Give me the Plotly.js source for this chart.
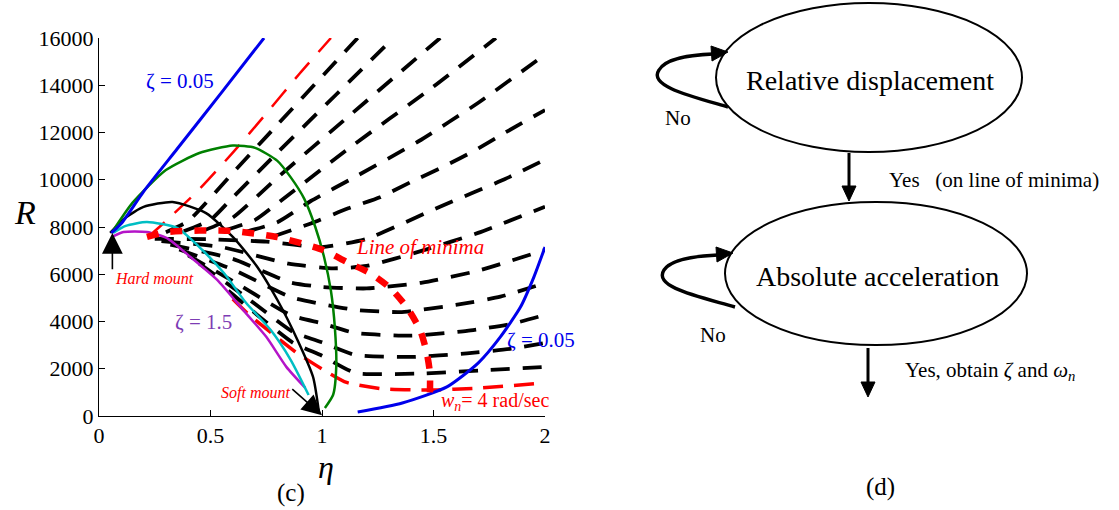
<!DOCTYPE html>
<html>
<head>
<meta charset="utf-8">
<script src="https://cdn.plot.ly/plotly-3.0.1.min.js"></script>
<style>html,body{margin:0;padding:0;background:#fff;}#chart{width:1119px;height:510px;}</style>
</head>
<body>
<div id="chart"></div>
<script>
// ---- damping curves (eta, R) ----
const zetaLowEta  = [0.055, 0.1, 0.2, 0.35, 0.55, 0.74];
const zetaLowR    = [7750, 8150, 9500, 11300, 13700, 16000];
const zetaLow2Eta = [1.16, 1.36, 1.56, 1.7, 1.8, 1.89, 1.95, 2.0];
const zetaLow2R   = [170, 550, 1230, 2240, 3350, 4610, 5880, 7150];
const greenEta = [0.06, 0.15, 0.3, 0.45, 0.6, 0.7, 0.8, 0.86, 0.92, 0.97, 1.01, 1.04, 1.058, 1.064, 1.05, 1.013];
const greenR   = [7800, 9020, 10410, 11130, 11450, 11350, 10800, 10100, 9200, 8000, 6700, 5300, 3700, 2100, 900, 340];
const blackEta = [0.05, 0.12, 0.2, 0.33, 0.48, 0.6, 0.71, 0.8, 0.89, 0.96, 0.985];
const blackR   = [7750, 8400, 8850, 9060, 8590, 7580, 6310, 4910, 3220, 1650, 250];
const cyanEta  = [0.063, 0.12, 0.215, 0.35, 0.45, 0.56, 0.66, 0.77, 0.86, 0.94];
const cyanR    = [7750, 8050, 8210, 7960, 7150, 6050, 4780, 3640, 2370, 890];
const zetaHighEta = [0.058, 0.11, 0.215, 0.305, 0.41, 0.53, 0.646, 0.75, 0.84, 0.925];
const zetaHighR   = [7580, 7790, 7790, 7530, 6730, 5760, 4490, 3350, 2080, 1190];

// ---- line of minima ----
const minimaEta = [0.215, 0.3, 0.45, 0.6, 0.8, 1.005, 1.11, 1.215, 1.305, 1.38, 1.44, 1.47, 1.484, 1.484];
const minimaR   = [7580, 7780, 7850, 7830, 7570, 7030, 6520, 6050, 5420, 4610, 3640, 2670, 1820, 1000];

// ---- constant natural-frequency curves ----
const wn19Eta = [0.22, 0.3, 0.45, 0.6, 0.75, 0.9, 1.04];
const wn19R   = [7580, 8250, 9600, 11150, 12800, 14500, 16000];
const wn4Eta  = [0.6, 0.665, 0.88, 1.0, 1.11, 1.27, 1.48, 1.7, 2.0];
const wn4R    = [4950, 4350, 2720, 1990, 1420, 1150, 1100, 1180, 1400];
const midEta = [
  [0.3, 0.4, 0.6, 0.8, 1.051, 1.16],
  [0.38, 0.5, 0.6, 0.8, 1.066, 1.32],
  [0.47, 0.6, 0.8, 1.126, 1.53],
  [0.56, 0.7, 0.8, 1.106, 1.495, 1.78],
  [0.66, 0.8, 0.95, 1.156, 1.435, 1.701, 2.0],
  [0.78, 0.95, 1.118, 1.26, 1.402, 1.544, 1.689, 1.824, 2.0],
  [0.25, 0.5, 0.75, 1.0, 1.2, 1.529, 1.821, 2.0],
  [0.28, 0.55, 0.85, 1.05, 1.2, 1.45, 1.7, 2.0],
  [0.32, 0.6, 0.856, 1.0, 1.2, 1.45, 1.7, 2.0],
  [0.36, 0.6, 0.864, 1.0, 1.15, 1.35, 1.6, 1.8, 2.0],
  [0.4, 0.62, 0.864, 1.0, 1.15, 1.4, 1.65, 1.85, 2.0],
  [0.45, 0.65, 0.87, 1.0, 1.15, 1.4, 1.65, 1.85, 2.0],
  [0.58, 0.707, 0.87, 1.0, 1.15, 1.45, 1.75, 2.0]
];
const midR = [
  [7780, 8250, 10290, 12330, 14890, 16000],
  [7820, 8300, 9250, 11150, 13630, 16000],
  [7850, 8400, 10090, 12740, 16000],
  [7850, 8300, 9000, 11230, 13910, 16000],
  [7800, 8200, 9100, 10160, 11640, 13260, 15300],
  [7600, 8150, 8790, 9260, 9920, 10550, 11260, 12010, 12950],
  [7500, 7480, 7380, 7150, 7500, 8860, 10030, 10850],
  [7400, 7150, 6450, 6250, 6350, 7000, 7750, 8860],
  [7250, 6650, 5660, 5460, 5400, 5650, 6150, 7030],
  [7050, 6200, 5020, 4740, 4490, 4400, 4700, 5050, 5630],
  [6800, 5600, 4250, 3920, 3510, 3400, 3600, 3900, 4280],
  [6450, 5100, 3560, 3120, 2580, 2500, 2650, 2850, 3090],
  [5300, 4300, 3100, 2550, 1820, 1800, 1950, 2080]
];

const SERIF = 'Liberation Serif, Times New Roman, Times, serif';
const BLUE = 'rgb(0,0,235)', RED = 'rgb(255,0,0)', GREEN = 'rgb(0,128,0)';
const CYAN = 'rgb(0,190,195)', MAGENTA = 'rgb(180,20,200)', PURPLE = 'rgb(125,60,180)';

function line(x, y, color, width, dash, smooth) {
  return {x: x, y: y, type: 'scatter', mode: 'lines', hoverinfo: 'skip',
          line: {color: color, width: width, dash: dash || 'solid', shape: 'spline',
                 smoothing: smooth === undefined ? 0.6 : smooth}};
}

const traces = [];
midEta.forEach((x, i) => traces.push(line(x, midR[i], 'black', 3.8, '19px,13px', 0.5)));
traces.push(line(wn19Eta, wn19R, RED, 2.5, '22px,14px'));
traces.push(line(wn4Eta, wn4R, RED, 3.5, '20px,11px', 0.5));
traces.push(line(zetaHighEta, zetaHighR, MAGENTA, 2.5));
traces.push(line(cyanEta, cyanR, CYAN, 2.5));
traces.push(line(blackEta, blackR, 'black', 2.5));
traces.push(line(greenEta, greenR, GREEN, 2.5));
traces.push(line(zetaLowEta, zetaLowR, BLUE, 3));
traces.push(line(zetaLow2Eta, zetaLow2R, BLUE, 3));
traces.push(line(minimaEta, minimaR, RED, 6.5, '12px,12px'));
// anchor trace for the flow-chart panel
traces.push({x: [], y: [], xaxis: 'x2', yaxis: 'y2', type: 'scatter', mode: 'lines', hoverinfo: 'skip'});

function txt(x, y, text, size, color, extra) {
  return Object.assign({x: x, y: y, xref: 'x', yref: 'y', text: text, showarrow: false,
    xanchor: 'center', yanchor: 'middle',
    font: {family: SERIF, size: size, color: color}}, extra || {});
}
function ptxt(x, y, text, size, extra) {
  return Object.assign({x: x, y: y, xref: 'x2', yref: 'y2', text: text, showarrow: false,
    xanchor: 'center', yanchor: 'middle',
    font: {family: SERIF, size: size, color: 'black'}}, extra || {});
}
function paperTxt(px, py, text, size) {
  return {x: px / 1119, y: 1 - py / 510, xref: 'paper', yref: 'paper', text: text, showarrow: false,
    xanchor: 'center', yanchor: 'middle', font: {family: SERIF, size: size, color: 'black'}};
}

const annotations = [
  txt(0.365, 14180, 'ζ = 0.05', 21, BLUE),
  txt(0.47, 3980, 'ζ = 1.5', 21, PURPLE),
  txt(1.82, 3220, 'ζ = 0.05', 21, BLUE, {xanchor: 'left'}),
  txt(1.166, 16470, '<i>w</i><sub><i>n</i></sub>= 19 rad/sec', 20, RED),
  txt(1.776, 593, '<i>w</i><sub><i>n</i></sub>= 4 rad/sec', 20, RED),
  txt(1.44, 7150, '<i>Line of minima</i>', 21, RED),
  txt(0.247, 5840, '<i>Hard mount</i>', 16, RED),
  txt(0.70, 970, '<i>Soft mount</i>', 16, RED),
  {x: 0.06, y: 7750, ax: 0.06, ay: 6150, xref: 'x', yref: 'y', axref: 'x', ayref: 'y', text: '',
   showarrow: true, arrowhead: 2, arrowsize: 2.6, arrowwidth: 1.6, arrowcolor: 'black'},
  {x: 1.0, y: 30, ax: 0.86, ay: 1190, xref: 'x', yref: 'y', axref: 'x', ayref: 'y', text: '',
   showarrow: true, arrowhead: 2, arrowsize: 2.5, arrowwidth: 1.6, arrowcolor: 'black'},
  paperTxt(25, 212, '<i>R</i>', 34),
  paperTxt(326, 467, '<i>η</i>', 32),
  paperTxt(291, 493, '(c)', 25),
  // flow chart text
  ptxt(870, 80, 'Relative displacement', 28),
  ptxt(877, 276, 'Absolute acceleration', 28),
  ptxt(678, 118, 'No', 21),
  ptxt(713, 335, 'No', 21),
  ptxt(887, 180, 'Yes\u00A0\u00A0 (on line of minima)', 21, {xanchor: 'left'}),
  ptxt(903, 371, 'Yes, obtain <i>ζ</i> and <i>ω</i><sub><i>n</i></sub>', 21, {xanchor: 'left'}),
  ptxt(880, 487, '(d)', 25)
];

const shp = (extra) => Object.assign({xref: 'x2', yref: 'y2', line: {color: 'black', width: 2}}, extra);
const shapes = [
  shp({type: 'circle', x0: 716, x1: 1022, y0: 3, y1: 152}),
  shp({type: 'circle', x0: 725, x1: 1027, y0: 202, y1: 345}),
  // straight "Yes" arrows
  shp({type: 'line', x0: 849, x1: 849, y0: 153, y1: 188, line: {color: 'black', width: 3}}),
  shp({type: 'path', path: 'M 842 186 L 856 186 L 849 201 Z', fillcolor: 'black', line: {color: 'black', width: 1}}),
  shp({type: 'line', x0: 868, x1: 868, y0: 348, y1: 384, line: {color: 'black', width: 3}}),
  shp({type: 'path', path: 'M 861 382 L 875 382 L 868 397 Z', fillcolor: 'black', line: {color: 'black', width: 1}}),
  // "No" loops
  shp({type: 'path', path: 'M 728 107 C 690 96, 648 86, 659 70 C 666 58, 690 55, 713 54', line: {color: 'black', width: 3.4}}),
  shp({type: 'path', path: 'M 711 46 L 728 52 L 712 61 Z', fillcolor: 'black', line: {color: 'black', width: 1}}),
  shp({type: 'path', path: 'M 735 307 C 697 296, 653 287, 664 270 C 671 259, 695 256, 718 255', line: {color: 'black', width: 3.4}}),
  shp({type: 'path', path: 'M 716 247 L 733 253 L 717 262 Z', fillcolor: 'black', line: {color: 'black', width: 1}})
];

const axisCommon = {showgrid: false, zeroline: false, showline: true, linecolor: 'black', linewidth: 1,
  ticks: 'inside', ticklen: 6, tickcolor: 'black', tickwidth: 1,
  tickfont: {family: SERIF, size: 22, color: 'black'}, fixedrange: true};

const layout = {
  width: 1119, height: 510,
  margin: {l: 0, r: 0, t: 0, b: 0},
  paper_bgcolor: 'white', plot_bgcolor: 'white',
  showlegend: false,
  font: {family: SERIF},
  xaxis: Object.assign({}, axisCommon, {domain: [99 / 1119, 545 / 1119], range: [0, 2],
    tickvals: [0, 0.5, 1, 1.5, 2], ticktext: ['0', '0.5', '1', '1.5', '2'], anchor: 'y'}),
  yaxis: Object.assign({}, axisCommon, {domain: [94 / 510, 472 / 510], range: [0, 16000],
    tickvals: [0, 2000, 4000, 6000, 8000, 10000, 12000, 14000, 16000], tickformat: 'd', anchor: 'x'}),
  xaxis2: {domain: [600 / 1119, 1], range: [600, 1119], visible: false, anchor: 'y2', fixedrange: true},
  yaxis2: {domain: [0, 1], range: [510, 0], visible: false, anchor: 'x2', fixedrange: true},
  annotations: annotations,
  shapes: shapes
};

Plotly.newPlot('chart', traces, layout, {displayModeBar: false, staticPlot: true});
</script>
</body>
</html>
